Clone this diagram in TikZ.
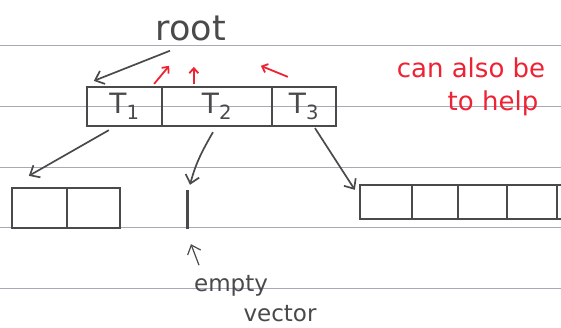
\documentclass[tikz,border=0pt]{standalone}
\usepackage{fontspec}
\setmainfont{DejaVu Sans}
\usepackage{tikz}
\usetikzlibrary{arrows.meta,positioning}
\usepackage{xcolor}
\definecolor{SketchPencil}{HTML}{4A4A4A}
\definecolor{SketchRed}{HTML}{EE2233}
\definecolor{SketchRule}{HTML}{A8A8B8}
\tikzset{
  rule/.style={draw=SketchRule,line width=0.9pt},
  cell/.style={draw=SketchPencil,line width=2.3pt,rectangle,inner sep=0pt,font=\fontsize{28}{32}\selectfont,text=SketchPencil},
  emptybar/.style={fill=SketchPencil,rectangle,inner sep=0pt,minimum width=3pt,minimum height=39pt},
  pencilarrow/.style={-{Straight Barb[length=8pt,width=14pt]},line width=1.7pt,draw=SketchPencil},
  redarrow/.style={-{Straight Barb[length=5pt,width=9pt]},line width=1.8pt,draw=SketchRed},
  pencilnote/.style={inner sep=0pt,text=SketchPencil},
  rednote/.style={inner sep=0pt,text=SketchRed,font=\fontsize{26}{30}\selectfont}
}

\begin{document}
\begin{tikzpicture}[x=1pt,y=1pt]
  % Lined page first, then the three-slot root array and its children.
  \fill[white] (0,0) rectangle (561,327);
  \useasboundingbox (0,0) rectangle (561,327);
  \clip (0,0) rectangle (561,327);
  \foreach \y in {282,221,160,100,39}
    \draw[rule] (0,\y) -- (561,\y);

  \node[pencilnote,font=\fontsize{35}{40}\selectfont] (root) at (191,299) {root};

  \node[cell,minimum width=75pt,minimum height=39pt] (t1) at (124.5,220.5) {T\textsubscript{1}};
  \node[cell,minimum width=110pt,minimum height=39pt] (t2) at (217,220.5) {T\textsubscript{2}};
  \node[cell,minimum width=64pt,minimum height=39pt] (t3) at (304,220.5) {T\textsubscript{3}};

  \node[cell,minimum width=55pt,minimum height=40pt] (l1) at (39.5,119) {};
  \node[cell,minimum width=53pt,minimum height=40pt] (l2) at (93.5,119) {};

  \node[emptybar] (emptyvec) at (187,117.5) {};

  \node[cell,minimum width=52pt,minimum height=34pt] (r1) at (386,125) {};
  \node[cell,minimum width=46pt,minimum height=34pt] (r2) at (435,125) {};
  \node[cell,minimum width=49pt,minimum height=34pt] (r3) at (482.5,125) {};
  \node[cell,minimum width=50pt,minimum height=34pt] (r4) at (532,125) {};
  \node[cell,minimum width=53pt,minimum height=34pt] (r5) at (583.5,125) {};

  \node[rednote] (also) at (471,259) {can also be};
  \node[rednote] (help) at (493,224) {to help};

  \node[pencilnote,font=\fontsize{23}{26}\selectfont] (emptylbl) at (231,41) {empty};
  \node[pencilnote,font=\fontsize{23}{26}\selectfont] (vectorlbl) at (280,13) {vector};

  \draw[pencilarrow] ([xshift=-21pt,yshift=-10pt]root.south) -- ([xshift=8pt,yshift=5pt]t1.north west);

  \draw[redarrow] ([xshift=-9pt,yshift=2pt]t1.north east) -- ++(15,18);
  \draw[redarrow] ([xshift=33pt,yshift=2pt]t2.north west) -- ++(0,17);
  \draw[redarrow] ([xshift=17pt,yshift=9pt]t3.north west) -- ++(-27,11);

  \draw[pencilarrow] ([xshift=23pt,yshift=-3pt]t1.south west) -- ([xshift=18pt,yshift=11pt]l1.north west);
  \draw[pencilarrow] ([xshift=-4pt,yshift=-5pt]t2.south) to[out=-120,in=75] ([xshift=3pt,yshift=5pt]emptyvec.north);
  \draw[pencilarrow] ([xshift=11pt,yshift=-1pt]t3.south) -- ([xshift=-4pt,yshift=-6pt]r1.north west);
  \draw[pencilarrow,line width=1.2pt] ([xshift=12pt,yshift=-36pt]emptyvec.south) -- ([xshift=4pt,yshift=-15pt]emptyvec.south);
\end{tikzpicture}
\end{document}
